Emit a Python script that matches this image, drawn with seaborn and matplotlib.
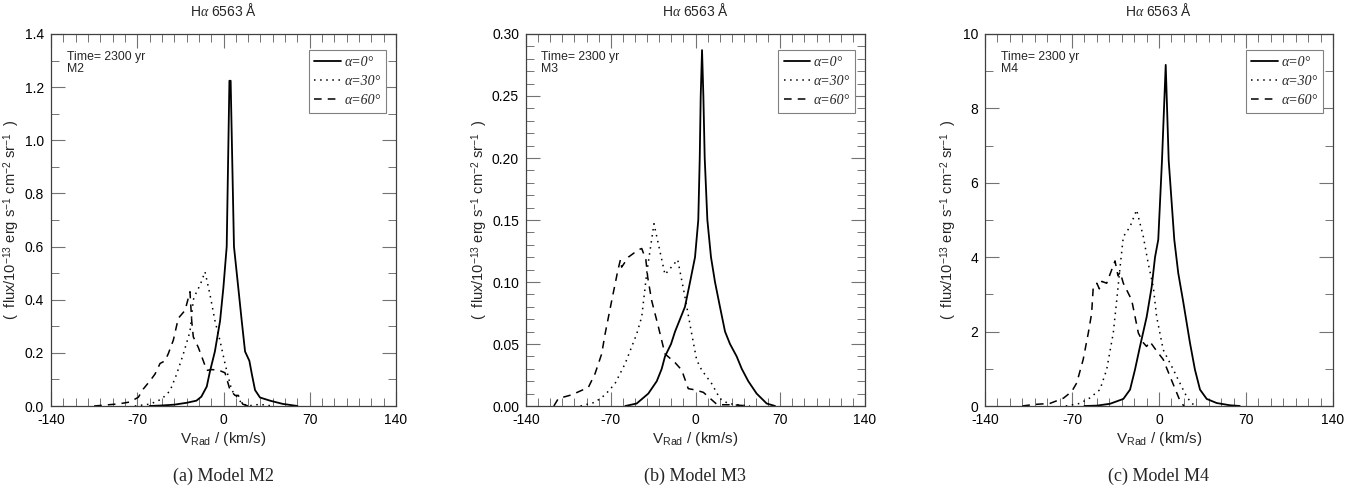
import numpy as np
import pandas as pd
import matplotlib
matplotlib.use("Agg")
import matplotlib.pyplot as plt
from matplotlib.ticker import MultipleLocator, FormatStrFormatter
from matplotlib.lines import Line2D
import seaborn as sns

# ---------------- data ----------------
models = ["M2", "M3", "M4"]
captions = ["(a) Model M2", "(b) Model M3", "(c) Model M4"]

# Model M2
m2_v0 = [-60, -50, -40, -30, -22, -18, -13.6, -11, -7, -2.8, -0.1, 2.6, 4.8, 5.8, 8.5, 12, 14.8, 17.5, 21, 23, 25.6, 29.6, 37.8, 48, 60]
m2_f0 = [0, 0.002, 0.005, 0.012, 0.02, 0.035, 0.073, 0.13, 0.205, 0.32, 0.445, 0.6, 1.224, 1.224, 0.6, 0.445, 0.32, 0.205, 0.17, 0.12, 0.06, 0.032, 0.02, 0.008, 0]
m2_v30 = [-72, -59.6, -50.2, -43.4, -38, -32.6, -27.2, -25.8, -24.5, -21.8, -19, -15, -11, -6.9, -2.8, 1.2, 3.9, 6.6, 10.7, 14.8, 20, 25, 30, 40]
m2_f30 = [0, 0.007, 0.026, 0.057, 0.12, 0.196, 0.28, 0.34, 0.40, 0.43, 0.455, 0.505, 0.42, 0.32, 0.245, 0.16, 0.11, 0.06, 0.035, 0.01, 0, 0.004, 0.006, 0]
m2_v60 = [-105, -95, -85, -76, -69.1, -65.1, -59.6, -55.6, -51.5, -47.5, -44.8, -40.7, -36.7, -31.2, -27.2, -25.8, -24.5, -20.4, -16.4, -13.6, -9.5, -4, 1.2, 5.3, 9.3, 12, 15.6, 20]
m2_f60 = [0, 0.004, 0.008, 0.015, 0.033, 0.064, 0.095, 0.12, 0.16, 0.17, 0.197, 0.248, 0.33, 0.36, 0.43, 0.32, 0.26, 0.22, 0.17, 0.134, 0.137, 0.135, 0.125, 0.06, 0.04, 0.04, 0.007, 0]

# Model M3
m3_v0 = [-58, -48.6, -39, -32, -27.9, -25.2, -20.2, -16.9, -8.7, -4.5, -0.4, 2.3, 3.5, 4.3, 5.4, 6.5, 7.6, 9.8, 12.8, 16.1, 20.2, 24.4, 28.5, 34, 38.2, 43.6, 50.5, 58.8, 65.7]
m3_f0 = [0, 0.002, 0.01, 0.02, 0.03, 0.04, 0.05, 0.06, 0.08, 0.10, 0.12, 0.15, 0.20, 0.25, 0.287, 0.25, 0.20, 0.15, 0.12, 0.10, 0.08, 0.06, 0.05, 0.04, 0.03, 0.02, 0.01, 0.002, 0]
m3_v30 = [-95, -83, -74.7, -66.5, -58.2, -48.6, -44.4, -40.3, -34.3, -25.2, -14.7, -8.7, -3.1, 1, 5.1, 13.4, 20.2, 27, 35, 45]
m3_f30 = [0, 0.003, 0.009, 0.018, 0.034, 0.058, 0.072, 0.107, 0.147, 0.106, 0.118, 0.088, 0.058, 0.037, 0.029, 0.018, 0.006, 0.002, 0.001, 0]
m3_v60 = [-117, -113.3, -102.3, -88.5, -83, -77.5, -74.7, -69.2, -64, -62, -61, -55.5, -47.2, -44.4, -41, -39.5, -36.2, -30.7, -25.2, -16.9, -11.4, -6, -0.4, 6.5, 13.4, 18, 30, 45]
m3_f60 = [0, 0.006, 0.009, 0.015, 0.026, 0.042, 0.058, 0.085, 0.11, 0.118, 0.112, 0.120, 0.126, 0.127, 0.118, 0.104, 0.085, 0.064, 0.042, 0.035, 0.029, 0.014, 0.013, 0.011, 0.005, 0.001, 0.001, 0]

# Model M4
m4_v0 = [-60, -50, -39.4, -28.7, -23.3, -19.3, -15.3, -9.9, -5.9, -3.2, -0.6, 2.4, 5.4, 7.8, 12.3, 15.5, 19.5, 24.9, 28.9, 33, 38.4, 46.4, 57, 65]
m4_f0 = [0, 0.01, 0.06, 0.19, 0.44, 0.98, 1.6, 2.4, 3.2, 4.0, 4.47, 6.6, 9.17, 6.6, 4.47, 3.57, 2.8, 1.7, 0.98, 0.44, 0.19, 0.08, 0.02, 0]
m4_v30 = [-75, -63.6, -55.5, -47.5, -42.1, -36.8, -34, -31.3, -28.7, -23.3, -18, -12.6, -8.6, -4.6, -1.9, 3.4, 11.5, 18.2, 22.3, 26.3, 30]
m4_f30 = [0, 0.07, 0.22, 0.44, 0.98, 1.96, 2.85, 3.74, 4.55, 4.82, 5.27, 4.55, 3.82, 3.2, 2.4, 1.51, 0.98, 0.52, 0.25, 0.07, 0]
m4_v60 = [-110, -101, -87.7, -76.9, -70.2, -66.2, -61, -56.9, -54.2, -52.9, -50, -48, -46, -42.1, -35.4, -33, -31.3, -28.7, -22, -16.6, -12.6, -10, -7.3, -1.9, 3.4, 8.8, 14.2, 16.9, 20]
m4_f60 = [0, 0.04, 0.07, 0.21, 0.39, 0.62, 1.25, 1.96, 2.49, 3.2, 3.3, 3.15, 3.35, 3.3, 3.9, 3.5, 3.6, 3.3, 2.85, 1.96, 1.70, 1.6, 1.73, 1.48, 1.25, 0.8, 0.36, 0.14, 0]

angle_labels = ["α=0°", "α=30°", "α=60°"]
y_max = [1.4, 0.30, 10]
y_major = [0.2, 0.05, 2]
y_minor = [0.1, 0.01, 1]
y_fmt = ["%.1f", "%.2f", "%d"]
x_ticks = [-140, -70, 0, 70, 140]

series = [
    [(m2_v0, m2_f0), (m2_v30, m2_f30), (m2_v60, m2_f60)],
    [(m3_v0, m3_f0), (m3_v30, m3_f30), (m3_v60, m3_f60)],
    [(m4_v0, m4_f0), (m4_v30, m4_f30), (m4_v60, m4_f60)],
]

# ---------------- style ----------------
sns.set_style("ticks")
plt.rcParams["font.family"] = ["Liberation Sans", "DejaVu Sans"]
plt.rcParams["mathtext.fontset"] = "custom"
plt.rcParams["mathtext.rm"] = "Liberation Sans"
plt.rcParams["mathtext.it"] = "Liberation Serif:italic"
plt.rcParams["mathtext.bf"] = "Liberation Sans:bold"

styles = [
    dict(linestyle="-", lw=1.3),
    dict(linestyle=(0, (1, 3)), lw=1.1),
    dict(linestyle=(0, (5, 4)), lw=1.1),
]

fig = plt.figure(figsize=(13.68, 4.94), dpi=100)
W, H = 1368, 494
ax_px = [(51, 345), (526, 339), (985, 348)]
ylabel_px = [22, 490, 959]
top_px, bot_px = 34, 406

for i in range(3):
    left, width = ax_px[i]
    ax = fig.add_axes([left / W, (H - bot_px) / H, width / W, (bot_px - top_px) / H])
    for (v, f), st in zip(series[i], styles):
        df = pd.DataFrame({"v": v, "f": f})
        sns.lineplot(data=df, x="v", y="f", ax=ax, color="black", estimator=None,
                     sort=False, **st)
    ax.set_xlim(-140, 140)
    ax.set_ylim(0, y_max[i])
    ax.set_xticks(x_ticks)
    ax.set_xticklabels([str(t) for t in x_ticks])
    ax.xaxis.set_minor_locator(MultipleLocator(10))
    ax.yaxis.set_major_locator(MultipleLocator(y_major[i]))
    ax.yaxis.set_minor_locator(MultipleLocator(y_minor[i]))
    ax.yaxis.set_major_formatter(FormatStrFormatter(y_fmt[i]))
    ax.tick_params(which="both", direction="in", top=True, right=True,
                   color="0.45", labelsize=10, labelcolor="black")
    ax.tick_params(which="major", length=10, width=0.8)
    ax.tick_params(axis="x", which="major", pad=5)
    ax.tick_params(axis="y", which="major", pad=5)
    ax.tick_params(which="minor", length=6, width=0.7)
    for s in ax.spines.values():
        s.set_color("0.25")
        s.set_linewidth(0.9)
    ax.set_xlabel(r"V$_{\mathrm{Rad}}$ / (km/s)", fontsize=11, labelpad=2)
    ax.set_ylabel(r"(  flux/10$^{-13}$ erg s$^{-1}$ cm$^{-2}$ sr$^{-1}$  )", fontsize=10.5)
    ax.yaxis.set_label_coords((ylabel_px[i] - left) / width, 0.5)
    ax.set_title(r"H$\alpha$ 6563 Å", fontsize=10, pad=13)
    ax.text(0.045, 0.955, "Time= 2300 yr\n" + models[i], transform=ax.transAxes,
            ha="left", va="top", fontsize=8.8, linespacing=1.05)
    handles = [Line2D([0], [0], color="black", **st) for st in styles]
    leg = ax.legend(handles, angle_labels, loc="upper right", bbox_to_anchor=(0.971, 0.957),
                    borderaxespad=0, frameon=True, fancybox=False, framealpha=1,
                    edgecolor="0.5", handlelength=1.9, handletextpad=0.25,
                    labelspacing=0.45, borderpad=0.4, markerfirst=True,
                    prop=dict(family="Liberation Serif", style="italic", size=10))
    leg.get_frame().set_linewidth(0.8)
    fig.text((left + width / 2) / W, 1 - 476 / H, captions[i], ha="center", va="center",
             fontsize=13, family="Liberation Serif")

fig.savefig("out.png", dpi=100)
